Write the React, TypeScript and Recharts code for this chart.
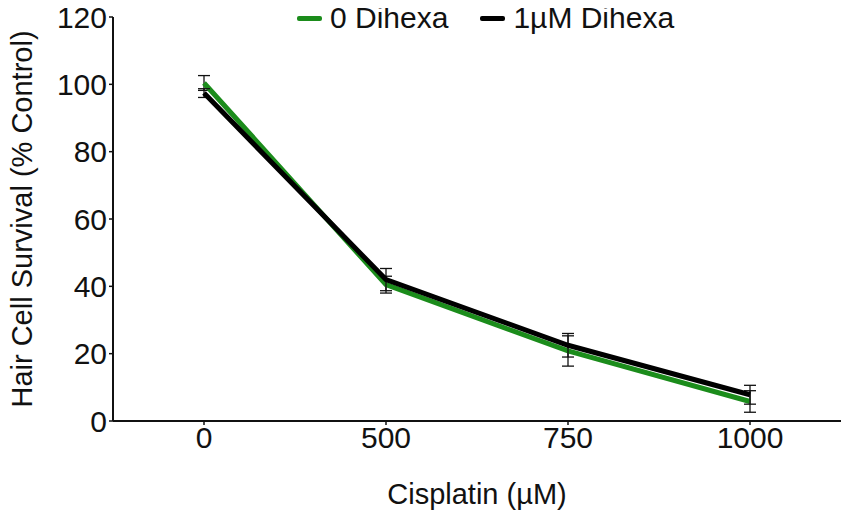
import {LineChart, Line, XAxis, YAxis, ErrorBar, Legend} from "recharts";

const doses = ["0", "500", "750", "1000"];
const noDihexa = [100.4, 40.5, 20.8, 5.8];
const noDihexaErr = [2.2, 2.5, 4.5, 3.2];
const withDihexa = [97.4, 42, 22.5, 7.8];
const withDihexaErr = [1.3, 3.3, 3.5, 2.8];
const yTicks = [0, 20, 40, 60, 80, 100, 120];

const GREEN = "#1b8c1b";
const FONT = "'Liberation Sans', Arial, sans-serif";

const data = doses.map((dose, i) => ({
    dose,
    none: noDihexa[i],
    noneErr: noDihexaErr[i],
    dihexa: withDihexa[i],
    dihexaErr: withDihexaErr[i],
}));

const legendItems = [
    {label: "0 Dihexa", color: GREEN},
    {label: "1µM Dihexa", color: "#000"},
];

const ChartLegend = () => (
    <div style={{display: "flex", alignItems: "center", fontFamily: FONT, fontSize: 30, color: "#111", lineHeight: "34px"}}>
        {legendItems.map((item) => (
            <div key={item.label} style={{display: "flex", alignItems: "center", marginRight: 32}}>
                <span style={{display: "inline-block", width: 25, height: 5, borderRadius: 2, background: item.color, marginRight: 8}}/>
                <span>{item.label}</span>
            </div>
        ))}
    </div>
);

export default function App() {
    return (
        <div style={{marginLeft: -8, marginTop: -8, background: "#fff", width: 850, height: 518}}>
            <LineChart width={850} height={518} data={data} margin={{top: 17, right: 9, bottom: 0, left: 0}}>
                <XAxis
                    dataKey="dose"
                    height={97}
                    padding={{left: 91, right: 91}}
                    axisLine={{stroke: "#111", strokeWidth: 2}}
                    tickLine={{stroke: "#111", strokeWidth: 1.5}}
                    tickSize={4}
                    tick={{fill: "#111", fontSize: 30, fontFamily: FONT}}
                    label={{
                        content: ({viewBox}: any) => (
                            <text x={viewBox.x + viewBox.width / 2} y={504} textAnchor="middle"
                                  fontSize={29} fontFamily={FONT} fill="#111">Cisplatin (µM)</text>
                        ),
                    }}
                />
                <YAxis
                    width={113}
                    domain={[0, 120]}
                    ticks={yTicks}
                    axisLine={{stroke: "#111", strokeWidth: 2}}
                    tickLine={{stroke: "#111", strokeWidth: 1.5}}
                    tickSize={4}
                    tick={{fill: "#111", fontSize: 30, fontFamily: FONT}}
                    label={{
                        content: ({viewBox}: any) => {
                            const cy = viewBox.y + viewBox.height / 2;
                            return (
                                <text x={32} y={cy} textAnchor="middle" transform={`rotate(-90, 32, ${cy})`}
                                      fontSize={29} fontFamily={FONT} fill="#111">Hair Cell Survival (% Control)</text>
                            );
                        },
                    }}
                />
                <Legend
                    verticalAlign="middle"
                    layout="horizontal"
                    content={() => <ChartLegend/>}
                    wrapperStyle={{top: 1, left: 297, width: "auto"}}
                />
                <Line type="linear" dataKey="none" stroke={GREEN} strokeWidth={5} dot={false} isAnimationActive={false}>
                    <ErrorBar dataKey="noneErr" width={6} stroke="#111" strokeWidth={1.3}/>
                </Line>
                <Line type="linear" dataKey="dihexa" stroke="#000" strokeWidth={5} dot={false} isAnimationActive={false}>
                    <ErrorBar dataKey="dihexaErr" width={6} stroke="#111" strokeWidth={1.3}/>
                </Line>
            </LineChart>
        </div>
    );
}
